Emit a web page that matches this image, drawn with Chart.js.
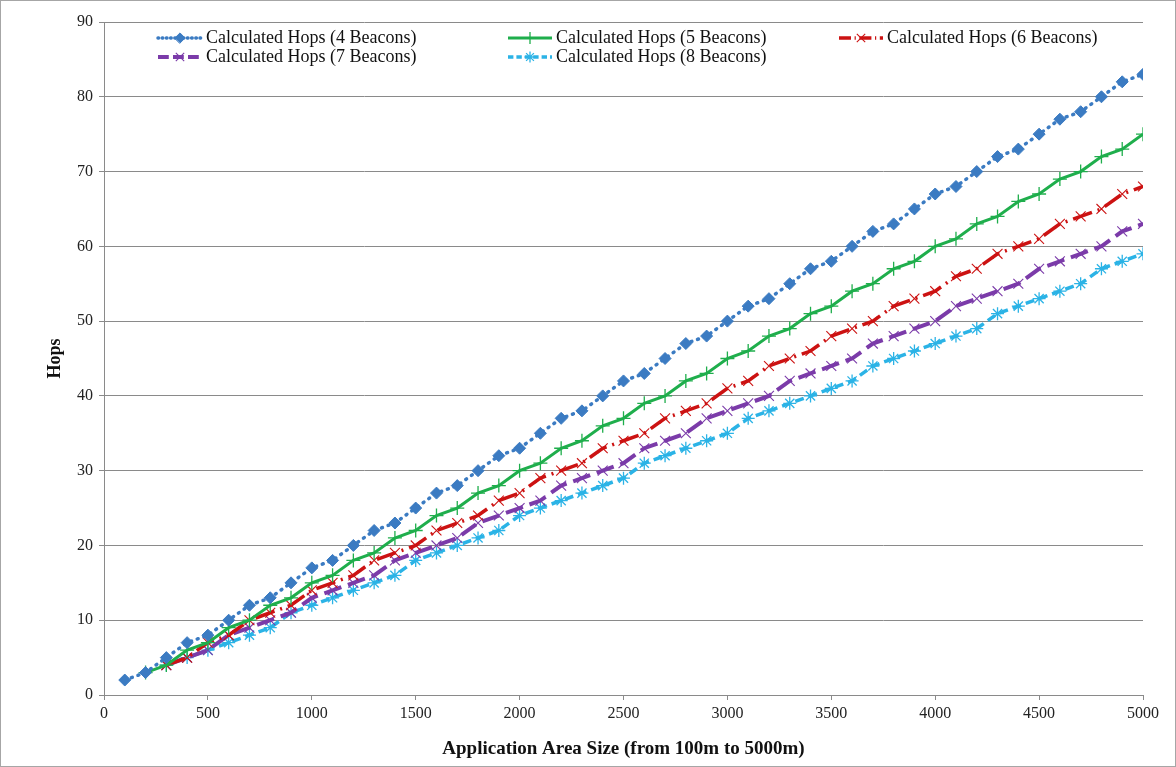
<!DOCTYPE html>
<html>
<head>
<meta charset="utf-8">
<title>Calculated Hops vs Application Area Size</title>
<script src="https://cdn.jsdelivr.net/npm/chart.js@4.4.1/dist/chart.umd.min.js"></script>
<style>
  html, body { margin: 0; padding: 0; background: #fff; }
  #wrap {
    width: 1176px; height: 767px; box-sizing: border-box;
    border: 1px solid #a6a6a6; position: relative;
  }
  canvas { display: block; }
</style>
</head>
<body>
<div id="wrap"><canvas id="chart" width="1174" height="765"></canvas></div>
<script>
// --- Data
const areaSizes = [
  100, 200, 300, 400, 500, 600, 700, 800, 900, 1000,
  1100, 1200, 1300, 1400, 1500, 1600, 1700, 1800, 1900, 2000,
  2100, 2200, 2300, 2400, 2500, 2600, 2700, 2800, 2900, 3000,
  3100, 3200, 3300, 3400, 3500, 3600, 3700, 3800, 3900, 4000,
  4100, 4200, 4300, 4400, 4500, 4600, 4700, 4800, 4900, 5000
];

const hops4 = [
  2, 3, 5, 7, 8, 10, 12, 13, 15, 17,
  18, 20, 22, 23, 25, 27, 28, 30, 32, 33,
  35, 37, 38, 40, 42, 43, 45, 47, 48, 50,
  52, 53, 55, 57, 58, 60, 62, 63, 65, 67,
  68, 70, 72, 73, 75, 77, 78, 80, 82, 83
];
const hops5 = [
  null, 3, 4, 6, 7, 9, 10, 12, 13, 15,
  16, 18, 19, 21, 22, 24, 25, 27, 28, 30,
  31, 33, 34, 36, 37, 39, 40, 42, 43, 45,
  46, 48, 49, 51, 52, 54, 55, 57, 58, 60,
  61, 63, 64, 66, 67, 69, 70, 72, 73, 75
];
const hops6 = [
  null, null, 4, 5, 7, 8, 10, 11, 12, 14,
  15, 16, 18, 19, 20, 22, 23, 24, 26, 27,
  29, 30, 31, 33, 34, 35, 37, 38, 39, 41,
  42, 44, 45, 46, 48, 49, 50, 52, 53, 54,
  56, 57, 59, 60, 61, 63, 64, 65, 67, 68
];
const hops7 = [
  null, null, 4, 5, 6, 8, 9, 10, 11, 13,
  14, 15, 16, 18, 19, 20, 21, 23, 24, 25,
  26, 28, 29, 30, 31, 33, 34, 35, 37, 38,
  39, 40, 42, 43, 44, 45, 47, 48, 49, 50,
  52, 53, 54, 55, 57, 58, 59, 60, 62, 63
];
const hops8 = [
  null, null, 4, 5, 6, 7, 8, 9, 11, 12,
  13, 14, 15, 16, 18, 19, 20, 21, 22, 24,
  25, 26, 27, 28, 29, 31, 32, 33, 34, 35,
  37, 38, 39, 40, 41, 42, 44, 45, 46, 47,
  48, 49, 51, 52, 53, 54, 55, 57, 58, 59
];

const seriesNames = [
  "Calculated Hops (4 Beacons)",
  "Calculated Hops (5 Beacons)",
  "Calculated Hops (6 Beacons)",
  "Calculated Hops (7 Beacons)",
  "Calculated Hops (8 Beacons)"
];

const xTicksStep = 500;
const yTicksStep = 10;
const xTitle = "Application Area Size (from 100m to 5000m)";
const yTitle = "Hops";

(() => {
  const FONT = "'Liberation Serif', 'Times New Roman', serif";
  const GRID = "#8a8a8a";

  // --- helpers
  function toPoints(values){
    const pts = [];
    values.forEach((v, i) => { if (v !== null) pts.push({ x: areaSizes[i], y: v }); });
    return pts;
  }

  const styles = [
    { color: "#3b7bc2", dash: [1, 6], width: 3.5, cap: "round", point: "rectRot", radius: 6, pw: 1 },
    { color: "#1fae4c", dash: [], width: 3, cap: "butt", point: "cross", radius: 7, pw: 1.3 },
    { color: "#cc1212", dash: [20, 6, 2, 6], width: 3.5, cap: "butt", point: "crossRot", radius: 7, pw: 1.1 },
    { color: "#7b3ba9", dash: [18, 7], width: 4, cap: "butt", point: "crossRot", radius: 7, pw: 1.1 },
    { color: "#2bb3e6", dash: [9, 5], width: 3.5, cap: "butt", point: "star", radius: 6.5, pw: 1.3 }
  ];
  const seriesValues = [hops4, hops5, hops6, hops7, hops8];

  const datasets = seriesValues.map((vals, i) => {
    const s = styles[i];
    return {
      label: seriesNames[i],
      data: toPoints(vals),
      borderColor: s.color,
      backgroundColor: s.color,
      borderWidth: s.width,
      borderDash: s.dash,
      borderCapStyle: s.cap,
      pointStyle: s.point,
      pointRadius: s.radius,
      pointBorderWidth: s.pw,
      pointBorderColor: s.color,
      pointBackgroundColor: s.color,
      tension: 0,
      fill: false
    };
  });

  // --- legend drawn inside the plot area (two rows, three columns)
  const legendSlots = [
    { x: 157, y: 37 }, { x: 507, y: 37 }, { x: 838, y: 37 },
    { x: 157, y: 56 }, { x: 507, y: 56 }
  ];

  const insideLegend = {
    id: "insideLegend",
    afterDraw(chart){
      const ctx = chart.ctx;
      ctx.save();
      chart.data.datasets.forEach((ds, i) => {
        const slot = legendSlots[i];
        const s = styles[i];
        const len = 44;
        ctx.strokeStyle = s.color;
        ctx.lineWidth = s.width;
        ctx.lineCap = s.cap;
        ctx.setLineDash(s.dash.length ? s.dash.map(d => d * 0.6) : []);
        ctx.beginPath();
        ctx.moveTo(slot.x, slot.y);
        ctx.lineTo(slot.x + len, slot.y);
        ctx.stroke();
        ctx.setLineDash([]);
        ctx.lineWidth = s.pw;
        ctx.fillStyle = s.color;
        Chart.helpers.drawPoint(ctx, { pointStyle: s.point, radius: s.radius * 0.85, borderWidth: s.pw, rotation: 0 }, slot.x + len / 2, slot.y);
        ctx.fillStyle = "#111";
        ctx.font = `18px ${FONT}`;
        ctx.textBaseline = "middle";
        ctx.textAlign = "left";
        ctx.fillText(ds.label, slot.x + len + 4, slot.y);
      });
      ctx.restore();
    }
  };

  const PAD = { left: 44, right: 32, top: 21, bottom: 6 };

  new Chart(document.getElementById("chart"), {
    type: "line",
    data: { datasets },
    plugins: [insideLegend],
    options: {
      responsive: false,
      animation: false,
      layout: { padding: PAD },
      plugins: { legend: { display: false }, tooltip: { enabled: false } },
      scales: {
        x: {
          type: "linear",
          min: 0, max: 5000,
          ticks: { stepSize: xTicksStep, color: "#222", font: { family: FONT, size: 16 }, padding: 4, maxRotation: 0, callback: v => String(v) },
          grid: { display: true, drawOnChartArea: false, drawTicks: true, tickLength: 5, color: GRID },
          border: { display: true, color: GRID, width: 1 },
          title: { display: true, text: xTitle, color: "#111", font: { family: FONT, size: 19, weight: "bold" }, padding: { top: 6, bottom: 0 } },
          afterFit: s => { s.height = 767 - 1 - 695 - PAD.bottom; }
        },
        y: {
          min: 0, max: 90,
          ticks: { stepSize: yTicksStep, color: "#222", font: { family: FONT, size: 16 }, padding: 6, callback: v => String(v) },
          grid: { color: GRID, lineWidth: 1, drawTicks: true, tickLength: 5 },
          border: { display: true, color: GRID, width: 1 },
          title: { display: true, text: yTitle, color: "#111", font: { family: FONT, size: 18, weight: "bold" }, padding: { top: 0, bottom: 0 } },
          afterFit: s => { s.width = 103 - PAD.left; }
        }
      }
    }
  });
})();
</script>
</body>
</html>
